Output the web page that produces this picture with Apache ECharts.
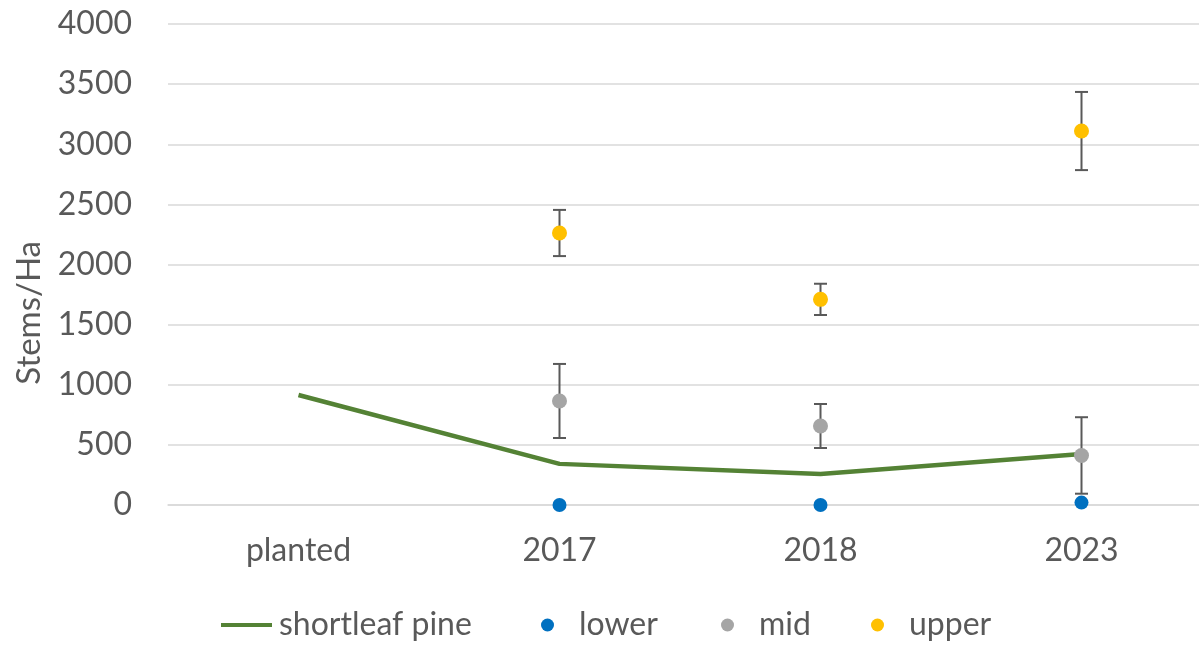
<!DOCTYPE html>
<html>
<head>
<meta charset="utf-8">
<script src="https://cdn.jsdelivr.net/npm/echarts@6/dist/echarts.min.js"></script>
<style>
  html, body { margin: 0; padding: 0; background: #ffffff; }
  #chart { width: 1199px; height: 645px; }
</style>
</head>
<body>
<div id="chart"></div>
<script>
// Stems per hectare by survey year
const categories = ['planted', '2017', '2018', '2023'];
const yTicks = [0, 500, 1000, 1500, 2000, 2500, 3000, 3500, 4000];

const shortleafPine = [915, 342, 258, 425];
const lower = ['-', 0, 0, 20];
const mid = ['-', 865, 657, 412];
const upper = ['-', 2262, 1710, 3110];

// symmetric error half-widths (standard error)
const midErr = [null, 308, 183, 318];
const upperErr = [null, 192, 130, 325];

const FONT = 'Lato';
const TXT = '#595959';

function errorData(vals, errs) {
  const out = [];
  vals.forEach((v, i) => {
    if (v !== '-' && errs[i] != null) out.push([i, v - errs[i], v + errs[i]]);
  });
  return out;
}

function renderErr(params, api) {
  const x = api.value(0);
  const lo = api.coord([x, api.value(1)]);
  const hi = api.coord([x, api.value(2)]);
  const half = 6.5;
  const style = { stroke: '#595959', lineWidth: 2 };
  return {
    type: 'group',
    children: [
      { type: 'line', shape: { x1: lo[0], y1: lo[1], x2: hi[0], y2: hi[1] }, style },
      { type: 'line', shape: { x1: hi[0] - half, y1: hi[1], x2: hi[0] + half, y2: hi[1] }, style },
      { type: 'line', shape: { x1: lo[0] - half, y1: lo[1], x2: lo[0] + half, y2: lo[1] }, style }
    ]
  };
}

const chart = echarts.init(document.getElementById('chart'), null, { renderer: 'canvas' });

const dotLegend = (name, left) => ({
  data: [name],
  left: left,
  top: 604,
  icon: 'circle',
  itemWidth: 13,
  itemHeight: 13,
  textStyle: { fontFamily: FONT, fontSize: 32, color: TXT, padding: [0, 0, 0, 20] }
});

chart.setOption({
  animation: false,
  backgroundColor: '#ffffff',
  // plot extends slightly past the right edge of the canvas
  grid: { left: 168, width: 1044, top: 24, height: 481, outerBoundsMode: 'none', containLabel: false },
  legend: [
    {
      data: ['shortleaf pine'],
      left: 216,
      top: 604,
      icon: 'rect',
      itemWidth: 51,
      itemHeight: 4,
      textStyle: { fontFamily: FONT, fontSize: 32, color: TXT, padding: [0, 0, 0, 2] }
    },
    dotLegend('lower', 536),
    dotLegend('mid', 716),
    dotLegend('upper', 866)
  ],
  graphic: [{
    type: 'text',
    left: 13,
    top: 241,
    rotation: Math.PI / 2,
    style: { text: 'Stems/Ha', fontFamily: FONT, fontSize: 33, fill: TXT }
  }],
  xAxis: {
    type: 'category',
    data: categories,
    boundaryGap: true,
    axisLine: { show: true, lineStyle: { color: '#D9D9D9', width: 1.5 } },
    axisTick: { show: false },
    axisLabel: { fontFamily: FONT, fontSize: 32, color: TXT, margin: 30 }
  },
  yAxis: {
    type: 'value',
    min: yTicks[0],
    max: yTicks[yTicks.length - 1],
    interval: yTicks[1] - yTicks[0],
    axisLine: { show: false },
    axisTick: { show: false },
    axisLabel: { fontFamily: FONT, fontSize: 32, color: TXT, margin: 36, formatter: v => String(v) },
    splitLine: { lineStyle: { color: '#D9D9D9', width: 1.5 } }
  },
  series: [
    {
      name: 'shortleaf pine',
      type: 'line',
      data: shortleafPine,
      showSymbol: false,
      symbol: 'none',
      lineStyle: { color: '#548235', width: 4.5 },
      itemStyle: { color: '#548235' },
      z: 2
    },
    {
      name: 'mid-err',
      type: 'custom',
      renderItem: renderErr,
      data: errorData(mid, midErr),
      encode: { x: 0, y: [1, 2] },
      z: 3,
      silent: true
    },
    {
      name: 'upper-err',
      type: 'custom',
      renderItem: renderErr,
      data: errorData(upper, upperErr),
      encode: { x: 0, y: [1, 2] },
      z: 3,
      silent: true
    },
    {
      name: 'lower',
      type: 'scatter',
      data: lower,
      symbolSize: 14,
      itemStyle: { color: '#0070C0', opacity: 1 },
      z: 4
    },
    {
      name: 'mid',
      type: 'scatter',
      data: mid,
      symbolSize: 15,
      itemStyle: { color: '#A5A5A5', opacity: 1 },
      z: 4
    },
    {
      name: 'upper',
      type: 'scatter',
      data: upper,
      symbolSize: 15,
      itemStyle: { color: '#FFC000', opacity: 1 },
      z: 4
    }
  ]
});
</script>
</body>
</html>
